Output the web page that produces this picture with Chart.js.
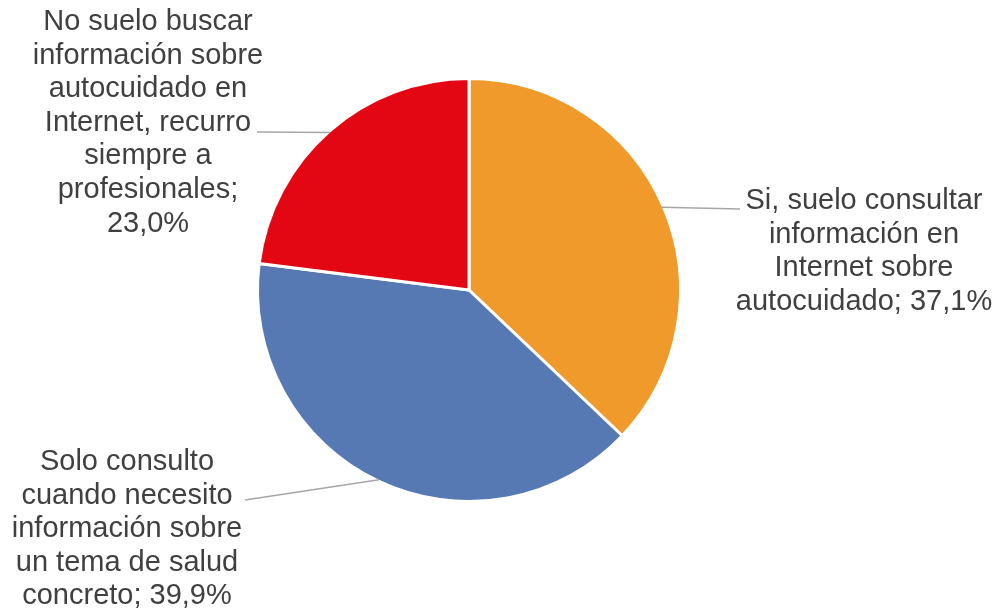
<!DOCTYPE html>
<html>
<head>
<meta charset="utf-8">
<script src="https://cdn.jsdelivr.net/npm/chart.js@4.4.1/dist/chart.umd.min.js"></script>
<style>
html,body{margin:0;padding:0;background:#fff;}
#wrap{width:998px;height:609px;position:relative;}
</style>
</head>
<body>
<div id="wrap"><canvas id="c"></canvas></div>
<script>
// ---- data ----
const categories = [
  ["Si, suelo consultar", "información en", "Internet sobre", "autocuidado;"],
  ["Solo consulto", "cuando necesito", "información sobre", "un tema de salud", "concreto;"],
  ["No suelo buscar", "información sobre", "autocuidado en", "Internet, recurro", "siempre a", "profesionales;"]
];
const values = [37.1, 39.9, 23.0];
const colors = ["#EF9A2B", "#5779B3", "#E30613"];

// ---- label layout (positions only) ----
const labelLayout = [
  { x: 864, y0: 209, newLinePct: false, lineEnd: [740, 209] },
  { x: 127, y0: 470, newLinePct: false, lineEnd: [245, 500] },
  { x: 148, y0: 30,  newLinePct: true,  lineEnd: [257, 132] }
];
const lineHeight = 33.6;

const fmtPct = v => v.toFixed(1).replace('.', ',') + '%';

const labelPlugin = {
  id: 'outLabels',
  afterDatasetsDraw(chart) {
    const ctx = chart.ctx;
    const meta = chart.getDatasetMeta(0);
    ctx.save();
    meta.data.forEach((arc, i) => {
      const p = arc.getProps(['x','y','startAngle','endAngle','outerRadius'], true);
      const mid = (p.startAngle + p.endAngle) / 2;
      const r = p.outerRadius - 1.5;
      const ex = p.x + Math.cos(mid) * r;
      const ey = p.y + Math.sin(mid) * r;
      const L = labelLayout[i];
      ctx.strokeStyle = '#A6A6A6';
      ctx.lineWidth = 1.5;
      ctx.beginPath();
      ctx.moveTo(ex, ey);
      ctx.lineTo(L.lineEnd[0], L.lineEnd[1]);
      ctx.stroke();

      const lines = categories[i].slice();
      const pct = fmtPct(values[i]);
      if (L.newLinePct) lines.push(pct);
      else lines[lines.length - 1] = lines[lines.length - 1] + ' ' + pct;
      ctx.fillStyle = '#404040';
      ctx.font = '29px "Liberation Sans", Arial, sans-serif';
      ctx.textAlign = 'center';
      ctx.textBaseline = 'alphabetic';
      lines.forEach((t, k) => ctx.fillText(t, L.x, L.y0 + k * lineHeight));
    });
    ctx.restore();
  }
};

new Chart(document.getElementById('c'), {
  type: 'pie',
  data: {
    labels: categories,
    datasets: [{
      data: values,
      backgroundColor: colors,
      borderColor: '#FFFFFF',
      borderWidth: 3
    }]
  },
  options: {
    responsive: true,
    maintainAspectRatio: false,
    animation: false,
    layout: { padding: { left: 256, right: 316, top: 77, bottom: 106 } },
    plugins: { legend: { display: false }, tooltip: { enabled: false } }
  },
  plugins: [labelPlugin]
});
</script>
</body>
</html>
